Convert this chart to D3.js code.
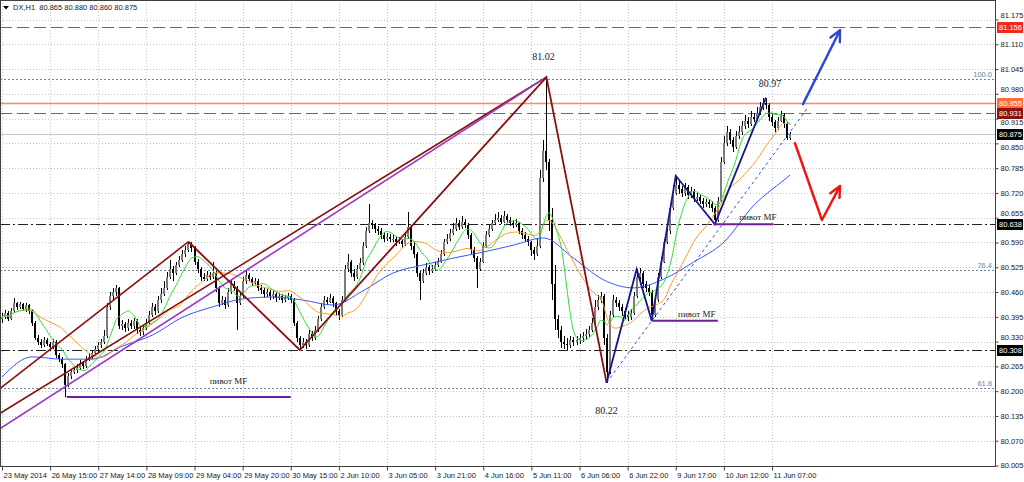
<!DOCTYPE html>
<html><head><meta charset="utf-8">
<script src="https://cdn.jsdelivr.net/npm/d3@7"></script>
<style>body{margin:0;background:#fff}svg{display:block}</style>
</head><body>
<svg id="c" width="1024" height="482"></svg>
<script>
// ---------- DATA ----------
const title = "DX,H1  80.865 80.880 80.860 80.875";
const firstOpen = 80.390;
const closes = [
80.395,80.405,80.390,80.410,80.430,80.420,80.428,80.415,80.425,80.410,
80.380,80.340,80.330,80.320,80.335,80.325,80.315,80.330,80.295,80.285,
80.270,80.215,80.240,80.250,80.255,80.262,80.275,80.265,80.285,80.290,
80.300,80.310,80.320,80.330,80.345,80.420,80.450,80.460,80.470,80.370,
80.375,80.365,80.380,80.370,80.385,80.360,80.355,80.365,80.380,80.400,
80.420,80.410,80.440,80.455,80.470,80.500,80.520,80.510,80.530,80.545,
80.560,80.570,80.585,80.575,80.540,80.520,80.500,80.495,80.505,80.500,
80.510,80.470,80.430,80.440,80.425,80.460,80.480,80.470,80.430,80.450,
80.490,80.505,80.495,80.485,80.490,80.470,80.465,80.455,80.460,80.450,
80.455,80.445,80.450,80.440,80.445,80.450,80.440,80.380,80.340,80.320,
80.330,80.320,80.350,80.340,80.360,80.390,80.420,80.440,80.435,80.445,
80.430,80.410,80.400,80.440,80.520,80.540,80.510,80.500,80.520,80.535,
80.580,80.620,80.640,80.635,80.625,80.620,80.610,80.600,80.605,80.600,
80.600,80.590,80.595,80.585,80.605,80.630,80.580,80.560,80.510,80.490,
80.510,80.525,80.515,80.520,80.530,80.540,80.560,80.590,80.600,80.615,
80.625,80.640,80.630,80.645,80.635,80.610,80.570,80.550,80.520,80.540,
80.580,80.610,80.625,80.640,80.650,80.655,80.645,80.660,80.650,80.640,
80.635,80.640,80.620,80.610,80.600,80.590,80.570,80.560,80.580,80.760,
80.830,80.800,80.650,80.480,80.390,80.360,80.330,80.325,80.320,80.335,
80.330,80.335,80.340,80.345,80.350,80.360,80.380,80.420,80.440,80.450,
80.340,80.250,80.400,80.440,80.430,80.420,80.410,80.400,80.395,80.405,
80.450,80.500,80.510,80.480,80.470,80.460,80.400,80.440,80.500,80.540,
80.590,80.620,80.680,80.720,80.740,80.730,80.720,80.735,80.715,80.725,
80.705,80.710,80.700,80.690,80.695,80.690,80.680,80.650,80.700,80.800,
80.850,80.880,80.860,80.840,80.870,80.880,80.895,80.910,80.900,80.920,
80.915,80.930,80.945,80.955,80.950,80.920,80.905,80.890,80.910,80.925,
80.900,80.865,80.875];
const highs = [
80.405,80.412,80.410,80.418,80.445,80.435,80.434,80.432,80.430,80.428,
80.414,80.385,80.348,80.338,80.342,80.340,80.330,80.336,80.334,80.300,
80.290,80.275,80.248,80.258,80.262,80.270,80.282,80.280,80.292,80.300,
80.308,80.318,80.328,80.338,80.360,80.430,80.460,80.470,80.478,80.474,
80.388,80.382,80.390,80.386,80.392,80.390,80.368,80.374,80.390,80.410,
80.430,80.428,80.450,80.470,80.490,80.512,80.545,80.528,80.540,80.555,
80.570,80.580,80.592,80.590,80.580,80.548,80.525,80.510,80.515,80.512,
80.540,80.515,80.475,80.450,80.448,80.470,80.492,80.488,80.475,80.460,
80.500,80.515,80.510,80.500,80.498,80.495,80.478,80.470,80.468,80.465,
80.462,80.460,80.458,80.455,80.452,80.458,80.455,80.445,80.385,80.345,
80.340,80.336,80.360,80.358,80.370,80.398,80.430,80.450,80.448,80.455,
80.450,80.435,80.415,80.450,80.530,80.560,80.545,80.520,80.530,80.550,
80.590,80.630,80.690,80.650,80.642,80.632,80.628,80.618,80.615,80.612,
80.610,80.605,80.605,80.600,80.615,80.670,80.635,80.590,80.565,80.515,
80.520,80.535,80.530,80.530,80.540,80.550,80.570,80.600,80.612,80.625,
80.640,80.655,80.648,80.660,80.652,80.640,80.615,80.578,80.555,80.550,
80.590,80.620,80.635,80.650,80.665,80.670,80.662,80.672,80.665,80.658,
80.650,80.652,80.645,80.628,80.618,80.608,80.595,80.578,80.600,80.780,
80.860,81.024,80.810,80.680,80.530,80.400,80.370,80.345,80.340,80.345,
80.342,80.345,80.350,80.355,80.362,80.372,80.392,80.440,80.452,80.460,
80.455,80.350,80.410,80.452,80.448,80.438,80.428,80.418,80.410,80.415,
80.460,80.520,80.522,80.515,80.488,80.478,80.465,80.450,80.510,80.552,
80.600,80.635,80.692,80.740,80.765,80.752,80.738,80.745,80.740,80.735,
80.730,80.720,80.715,80.708,80.705,80.702,80.698,80.685,80.710,80.815,
80.870,80.895,80.888,80.868,80.882,80.895,80.910,80.925,80.918,80.935,
80.930,80.945,80.958,80.968,80.970,80.955,80.928,80.912,80.920,80.935,
80.930,80.905,80.880];
const lows = [
80.380,80.390,80.385,80.386,80.405,80.412,80.415,80.410,80.408,80.402,
80.372,80.333,80.322,80.312,80.315,80.318,80.305,80.310,80.288,80.276,
80.262,80.185,80.210,80.232,80.244,80.248,80.255,80.258,80.260,80.278,
80.284,80.295,80.304,80.312,80.325,80.340,80.412,80.440,80.450,80.362,
80.360,80.355,80.358,80.362,80.364,80.350,80.345,80.348,80.360,80.375,
80.395,80.400,80.405,80.432,80.450,80.465,80.495,80.490,80.505,80.525,
80.538,80.552,80.565,80.565,80.530,80.510,80.490,80.488,80.490,80.492,
80.495,80.460,80.420,80.425,80.415,80.420,80.455,80.462,80.360,80.425,
80.445,80.482,80.488,80.475,80.478,80.462,80.455,80.445,80.448,80.440,
80.442,80.435,80.438,80.430,80.435,80.438,80.432,80.370,80.330,80.308,
80.312,80.310,80.315,80.332,80.335,80.355,80.385,80.415,80.425,80.430,
80.420,80.400,80.388,80.395,80.435,80.512,80.500,80.490,80.495,80.515,
80.530,80.575,80.615,80.625,80.615,80.610,80.600,80.592,80.595,80.590,
80.590,80.580,80.585,80.575,80.580,80.600,80.570,80.550,80.500,80.440,
80.485,80.505,80.505,80.510,80.515,80.525,80.535,80.555,80.585,80.595,
80.610,80.620,80.622,80.625,80.628,80.600,80.560,80.540,80.471,80.515,
80.535,80.575,80.605,80.620,80.635,80.645,80.638,80.640,80.642,80.632,
80.628,80.630,80.612,80.600,80.592,80.580,80.555,80.545,80.555,80.575,
80.750,80.780,80.620,80.440,80.360,80.340,80.312,80.310,80.308,80.312,
80.318,80.322,80.325,80.330,80.335,80.342,80.355,80.375,80.412,80.430,
80.320,80.222,80.245,80.395,80.420,80.410,80.398,80.390,80.385,80.388,
80.400,80.445,80.490,80.470,80.460,80.450,80.385,80.395,80.435,80.495,
80.535,80.585,80.612,80.675,80.715,80.718,80.710,80.712,80.705,80.708,
80.695,80.698,80.690,80.680,80.682,80.680,80.670,80.638,80.645,80.695,
80.795,80.842,80.848,80.828,80.835,80.862,80.872,80.888,80.890,80.895,
80.905,80.910,80.925,80.938,80.940,80.910,80.895,80.880,80.885,80.905,
80.890,80.860,80.860];
// slow (blue) moving average read every 10 bars, plus the last bar
const blueMA = [80.237,80.290,80.284,80.284,80.318,80.347,80.394,80.421,80.442,80.447,
80.439,80.426,80.463,80.510,80.531,80.549,80.565,80.583,80.602,80.549,
80.492,80.471,80.494,80.539,80.591,80.688,80.754];
const blueMAStep = 10;
const blueMALast = 80.767;
const fastPeriod = 8, midPeriod = 21;

const timeLabels = ["23 May 2014","26 May 15:00","27 May 14:00","28 May 09:00","29 May 04:00",
"29 May 20:00","30 May 15:00","2 Jun 10:00","3 Jun 05:00","3 Jun 21:00","4 Jun 16:00",
"5 Jun 11:00","6 Jun 06:00","6 Jun 22:00","9 Jun 17:00","10 Jun 12:00","11 Jun 07:00"];
const barsPerLabel = 16;
const priceTicks = ["81.175","81.110","81.045","80.980","80.915","80.850","80.785","80.720",
"80.655","80.590","80.525","80.460","80.395","80.330","80.265","80.200","80.135","80.070","80.005"];

const levelPrices = [81.156, 80.955, 80.931, 80.875, 80.638, 80.308];
const fibLevels = ["100.0","76.4","61.8"];
const fibPrices = [81.020, 80.518, 80.207];

const channelLines = [ [[-1,80.205],[62,80.592]], [[-1,80.140],[181,81.024]] ];
const purpleLine = [[-1,80.100],[181,81.024]];
const zigzagRed = [[62,80.592],[99,80.308],[181,81.024],[201,80.222]];
const zigzagNavy = [[201,80.222],[211,80.520],[216,80.385],[224,80.765],[237,80.638],[254,80.970]];
const dashedBlue = [[201,80.222],[268,80.945]];
const pivots = [[21.5,96,80.185],[216,238,80.385],[236.5,256.5,80.638]];
const pivotText = "пивот MF";
const pivotLabelBars = [75.3, 231, 251.3];
const peakLabels = ["81.02","80.22","80.97"];
const peakBars = [180, 201, 255.3];
const peakPrices = [81.024, 80.222, 80.970];
const arrowUp = [[266.3,80.953],[278.6,81.147]];
const arrowDown = [[263.6,80.851],[272.6,80.649],[278.6,80.738]];

// ---------- DRAW ----------
const W = 995, H = 466;
const svg = d3.select('#c');
const x = d3.scaleLinear().domain([0, 330]).range([2, 994.6]);
const y = d3.scaleLinear().domain([80.005, 81.175]).range([465.5, 19.5]);
const AX = "'Liberation Sans', Arial, sans-serif";
const SERIF = "'Liberation Serif', 'Times New Roman', serif";

svg.append('defs').append('clipPath').attr('id','clip')
  .append('rect').attr('x',1).attr('y',1).attr('width',W-1).attr('height',H-1);
const plot = svg.append('g').attr('clip-path','url(#clip)');

// grid
const grid = plot.append('g');
priceTicks.forEach(t => {
  const yy = Math.round(y(+t)) + 0.5;
  grid.append('line').attr('x1',0).attr('x2',W).attr('y1',yy).attr('y2',yy)
    .attr('stroke','#c4c4c4').attr('stroke-dasharray','1,2');
});
timeLabels.forEach((t,k) => {
  const xx = Math.round(x(k*barsPerLabel)) + 0.5;
  grid.append('line').attr('x1',xx).attr('x2',xx).attr('y1',0).attr('y2',H)
    .attr('stroke','#c4c4c4').attr('stroke-dasharray','1,2');
});

// fib dotted levels
fibPrices.forEach((p,k) => {
  const yy = Math.round(y(p)) + 0.5;
  plot.append('line').attr('x1',0).attr('x2',W).attr('y1',yy).attr('y2',yy)
    .attr('stroke','#6f8494').attr('stroke-dasharray','2,2');
  plot.append('text').attr('x',992).attr('y',yy-3).attr('text-anchor','end')
    .attr('font-family',AX).attr('font-size','7.5px').attr('fill','#5a8aa8').text(fibLevels[k]);
});

// horizontal levels
const levelStyle = [
  {c:'#e8352a', d:'12,5', w:1, box:'#ee2a22'},
  {c:'#ff8a58', d:null, w:1.4, box:'#ff6a36'},
  {c:'#b84848', d:'12,5', w:1, box:'#8e1212'},
  {c:'#c8c8c8', d:null, w:1, box:'#000000'},
  {c:'#202020', d:'10,3,2,3', w:1, box:'#000000'},
  {c:'#202020', d:'10,3,2,3', w:1, box:'#000000'}
];
levelPrices.forEach((p,k) => {
  const yy = Math.round(y(p)) + 0.5;
  const l = plot.append('line').attr('x1',0).attr('x2',W).attr('y1',yy).attr('y2',yy)
    .attr('stroke',levelStyle[k].c).attr('stroke-width',levelStyle[k].w);
  if (levelStyle[k].d) l.attr('stroke-dasharray',levelStyle[k].d);
});

// candles
const cg = plot.append('g').attr('shape-rendering','crispEdges');
closes.forEach((c,i) => {
  const o = i === 0 ? firstOpen : closes[i-1];
  const rx = Math.round(x(i));
  const yh = Math.round(y(highs[i])), yl = Math.round(y(lows[i]));
  cg.append('rect').attr('x',rx).attr('y',yh).attr('width',1).attr('height',Math.max(1,yl-yh)).attr('fill','#000');
  const top = Math.round(y(Math.max(o,c))), bot = Math.round(y(Math.min(o,c)));
  const bull = c >= o;
  cg.append('rect').attr('x',rx-1).attr('y',top).attr('width',2).attr('height',Math.max(1,bot-top))
    .attr('fill', bull ? '#7c7c7c' : '#000');
});

// moving averages
function sma(arr, n) {
  return arr.map((v,i) => { const s = arr.slice(Math.max(0,i-n+1), i+1); return d3.mean(s); });
}
const lineGen = d3.line().x(d => x(d[0])).y(d => y(d[1])).curve(d3.curveMonotoneX);
const blueData = blueMA.map((v,k) => [k*blueMAStep, v]).concat([[closes.length-1, blueMALast]]);
plot.append('path').attr('d', lineGen(blueData)).attr('fill','none').attr('stroke','#3a55ff').attr('stroke-width',1);
plot.append('path').attr('d', lineGen(sma(closes, midPeriod).map((v,i)=>[i,v]))).attr('fill','none').attr('stroke','#ff9a30').attr('stroke-width',1);
plot.append('path').attr('d', lineGen(sma(closes, fastPeriod).map((v,i)=>[i,v]))).attr('fill','none').attr('stroke','#2ee02e').attr('stroke-width',1);

// trend lines
const straight = d3.line().x(d => x(d[0])).y(d => y(d[1]));
channelLines.forEach(pts => plot.append('path').attr('d', straight(pts)).attr('fill','none').attr('stroke','#8b0e0e').attr('stroke-width',1.6));
plot.append('path').attr('d', straight(purpleLine)).attr('fill','none').attr('stroke','#9a3cc8').attr('stroke-width',1.6);
plot.append('path').attr('d', straight(zigzagRed)).attr('fill','none').attr('stroke','#8b0e0e').attr('stroke-width',1.8);
plot.append('path').attr('d', straight(dashedBlue)).attr('fill','none').attr('stroke','#3b48d8').attr('stroke-width',1).attr('stroke-dasharray','3,3');
plot.append('path').attr('d', straight(zigzagNavy)).attr('fill','none').attr('stroke','#16168a').attr('stroke-width',1.8);

// pivots
pivots.forEach((p,k) => {
  const yy = y(p[2]);
  plot.append('line').attr('x1',x(p[0])).attr('x2',x(p[1])).attr('y1',yy).attr('y2',yy)
    .attr('stroke','#6a1f9e').attr('stroke-width',2);
  plot.append('text').attr('x',x(pivotLabelBars[k])).attr('y', yy - (k===0 ? 13 : 4)).attr('text-anchor','middle')
    .attr('font-family',SERIF).attr('font-size','9px').attr('fill','#1a1a1a').text(pivotText);
});

// peak labels
const peakDy = [-17, 31, -11];
peakLabels.forEach((t,k) => {
  plot.append('text').attr('x',x(peakBars[k])).attr('y',y(peakPrices[k])+peakDy[k]).attr('text-anchor','middle')
    .attr('font-family',SERIF).attr('font-size','10px').attr('fill','#1a1a1a').text(t);
});

// arrows
function arrow(pts, color) {
  plot.append('path').attr('d', straight(pts)).attr('fill','none').attr('stroke',color)
    .attr('stroke-width',2.4).attr('stroke-linecap','round').attr('stroke-linejoin','round');
  const a = pts[pts.length-2], b = pts[pts.length-1];
  const x1 = x(a[0]), y1 = y(a[1]), x2 = x(b[0]), y2 = y(b[1]);
  const ang = Math.atan2(y2-y1, x2-x1), L = 12, spread = 0.45;
  const pA = [x2 - L*Math.cos(ang-spread), y2 - L*Math.sin(ang-spread)];
  const pB = [x2 - L*Math.cos(ang+spread), y2 - L*Math.sin(ang+spread)];
  plot.append('path').attr('d', `M${pA[0]},${pA[1]}L${x2},${y2}L${pB[0]},${pB[1]}`)
    .attr('fill','none').attr('stroke',color).attr('stroke-width',2.4).attr('stroke-linecap','round').attr('stroke-linejoin','round');
}
arrow(arrowUp, '#2c46d6');
arrow(arrowDown, '#ee1410');

// frame
svg.append('rect').attr('x',0.5).attr('y',0.5).attr('width',W).attr('height',H)
  .attr('fill','none').attr('stroke','#404040').attr('stroke-width',1);

// right axis
const yAxis = d3.axisRight(y).tickValues(priceTicks.map(Number)).tickFormat((d,i)=>priceTicks[i]).tickSize(3).tickPadding(2);
const ya = svg.append('g').attr('transform',`translate(${W+0.5},0)`).call(yAxis);
ya.select('.domain').remove();
ya.selectAll('line').attr('stroke','#404040');
ya.selectAll('text').attr('font-family',AX).attr('font-size','7.5px').attr('fill','#202020');
// nudge tick labels that sit under a level box so they peek out beside it
const boxY = levelPrices.map(p => y(p));
ya.selectAll('.tick').each(function(d){
  const ty = y(d);
  boxY.forEach(by => {
    if (Math.abs(ty - by) < 11 && Math.abs(ty - by) > 3) {
      d3.select(this).select('text').attr('dy', ty > by ? '0.75em' : '-0.25em');
    }
  });
});

// level boxes
levelPrices.forEach((p,k) => {
  const yy = Math.round(y(p));
  svg.append('rect').attr('x',997).attr('y',yy-5).attr('width',26).attr('height',11).attr('fill',levelStyle[k].box);
  svg.append('text').attr('x',999).attr('y',yy+3).attr('font-family',AX).attr('font-size','7.5px')
    .attr('fill','#fff').text(p.toFixed(3));
});

// bottom axis
const xAxis = d3.axisBottom(x).tickValues(timeLabels.map((t,k)=>k*barsPerLabel))
  .tickFormat((d,i)=>timeLabels[i]).tickSize(4).tickPadding(2);
const xa = svg.append('g').attr('transform',`translate(0,${H+0.5})`).call(xAxis);
xa.select('.domain').remove();
xa.selectAll('line').attr('stroke','#404040');
xa.selectAll('text').attr('font-family',AX).attr('font-size','7.5px').attr('fill','#202020')
  .attr('text-anchor','start').attr('dx','1');

// title
svg.append('path').attr('d','M3,6L9,6L6,9.5Z').attr('fill','#000');
svg.append('text').attr('x',13).attr('y',10).attr('font-family',AX).attr('font-size','7.5px').attr('fill','#202020')
  .attr('xml:space','preserve').text(title);
</script>
</body></html>
